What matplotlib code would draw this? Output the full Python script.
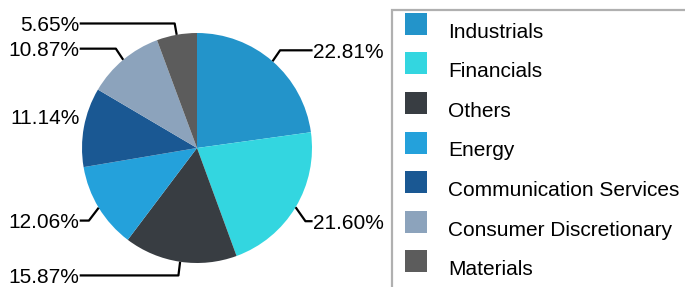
import numpy as np
import matplotlib.pyplot as plt
from matplotlib.patches import Rectangle

sectors = ['Industrials', 'Financials', 'Others', 'Energy',
           'Communication Services', 'Consumer Discretionary', 'Materials']
weights = [22.81, 21.60, 15.87, 12.06, 11.14, 10.87, 5.65]
colors = ['#2394ca', '#33d6e0', '#383d42', '#24a1db',
          '#1a5893', '#8ca3bc', '#5c5c5c']

# small vertical shifts of the labels (in pie radii), as laid out in the original
label_nudge = [0.02, -0.07, -0.02, -0.06, 0.07, 0.02, 0.0]

W, H = 685, 287
cx, cy, R = 197, 148, 115   # pie centre / radius in pixels

plt.rcParams['font.family'] = ['Liberation Sans', 'DejaVu Sans']

fig = plt.figure(figsize=(W / 100, H / 100), dpi=100)
ax = fig.add_axes([0, 0, 1, 1])

wedges, _ = ax.pie(weights, colors=colors, startangle=90, counterclock=False,
                   radius=1.0, wedgeprops=dict(linewidth=0))
ax.set_xlim(-cx / R, (W - cx) / R)
ax.set_ylim(-(H - cy) / R, cy / R)
ax.set_aspect('equal')
ax.axis('off')

for w, val, dy in zip(wedges, weights, label_nudge):
    ang = np.deg2rad((w.theta1 + w.theta2) / 2)
    ex, ey = np.cos(ang), np.sin(ang)
    bx, by = 1.1 * ex, 1.1 * ey + dy
    right = ex >= 0
    lx = 1.005 if right else -1.02
    if (right and bx < lx) or (not right and bx > lx):
        ax.plot([ex, bx, lx], [ey, by, by], color='black', lw=1.6,
                solid_capstyle='butt', clip_on=False)
    ax.text(lx, by - 2 / R, f'{val:.2f}%', ha='left' if right else 'right',
            va='center', fontsize=15, color='black')

# legend box (runs off the figure on the right and bottom)
def fx(x):
    return x / W

def fy(y):
    return 1 - y / H

fig.add_artist(Rectangle((fx(392), fy(400)), fx(400), (400 - 10) / H,
                         transform=fig.transFigure, fill=False,
                         edgecolor='#b0b0b0', lw=1.6, clip_on=False))
step = 39.6
for i, (name, c) in enumerate(zip(sectors, colors)):
    top = 12.7 + i * step
    fig.add_artist(Rectangle((fx(405), fy(top + 22)), fx(22), 22 / H,
                             transform=fig.transFigure, facecolor=c,
                             edgecolor='none'))
    fig.text(fx(448), fy(37.7 + i * step), name, fontsize=15,
             ha='left', va='baseline', color='black')

fig.savefig('out.png', dpi=100)
